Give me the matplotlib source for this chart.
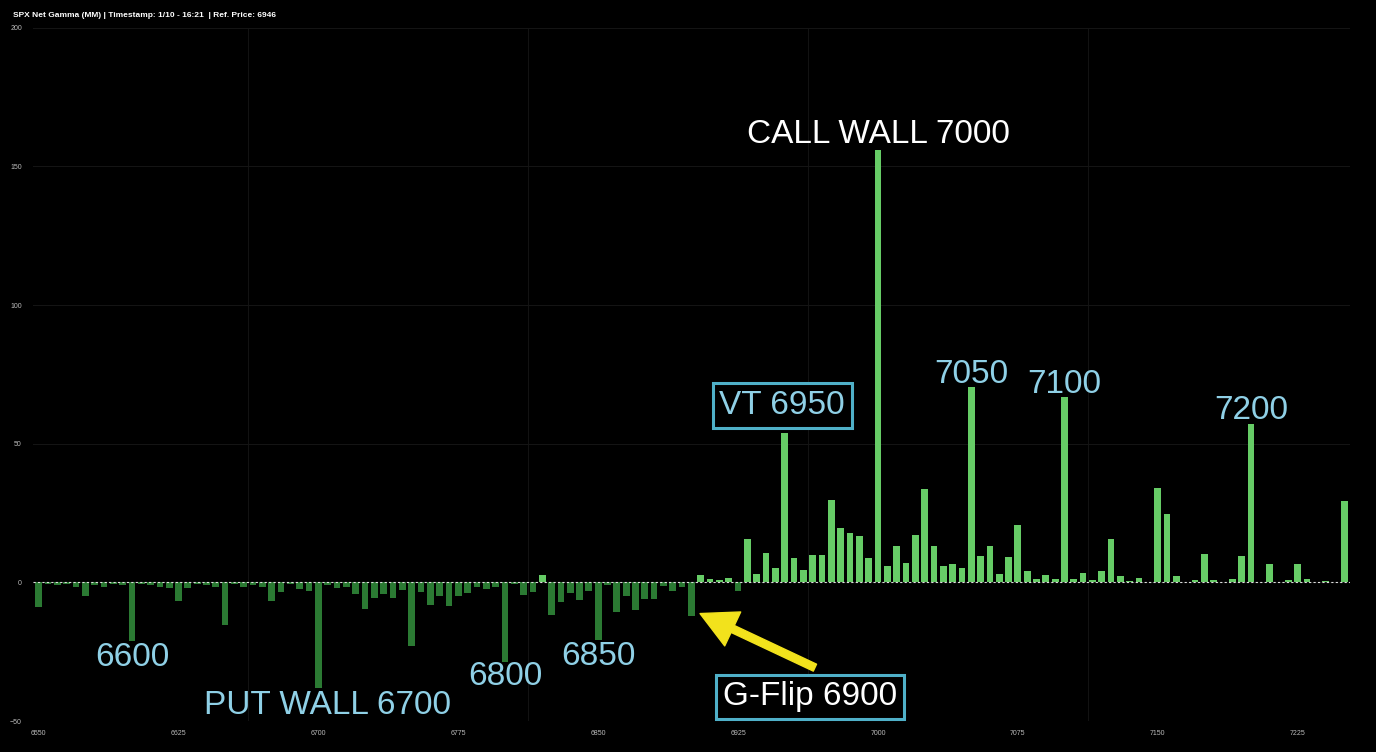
import numpy as np
import matplotlib
matplotlib.use("Agg")
import matplotlib.pyplot as plt

# strikes every 5 points, 6550 .. 7250
strikes = np.arange(6550, 7251, 5)
gamma = [
    -9, -0.5, -1, -0.5, -1.5, -5, -1, -1.5, -0.5, -1,
    -21, -0.5, -1, -1.5, -2, -6.5, -2, -0.5, -1, -1.5,
    -15.5, -0.5, -1.5, -1, -1.5, -6.5, -3.5, -0.5, -2.5, -3,
    -38, -1, -2, -1.5, -4.3, -9.6, -5.5, -4.3, -5.5, -2.7,
    -23, -3.6, -8, -5, -8.5, -4.7, -3.7, -1.7, -2.4, -1.5,
    -28.5, -0.5, -4.5, -3.3, 2.8, -11.7, -6.9, -3.7, -6.3, -2.9,
    -20.6, -0.8, -10.8, -4.9, -9.9, -5.9, -5.9, -1.3, -3.1, -1.7,
    -12, 2.8, 1.3, 0.8, 1.8, -2.9, 15.7, 2.9, 10.6, 5.3,
    54, 8.7, 4.6, 10, 10, 29.8, 19.8, 17.8, 16.6, 9,
    156, 5.8, 13.1, 6.9, 17.2, 33.7, 13.3, 5.9, 6.5, 5.1,
    70.4, 9.4, 13.1, 3, 9.2, 20.8, 4, 1.1, 2.7, 1.1,
    66.8, 1.2, 3.5, 0.8, 4.3, 15.8, 2.3, 0.5, 1.7, 0.3,
    34, 24.8, 2.2, 0.3, 0.8, 10.1, 0.8, 0.3, 1.2, 9.4,
    57, 0.3, 6.5, 0.3, 0.8, 6.5, 1.2, 0.3, 0.6, 0.2,
    29.4,
]
xticks = [6550, 6625, 6700, 6775, 6850, 6925, 7000, 7075, 7150, 7225]
yticks = [-50, 0, 50, 100, 150, 200]

title = "SPX Net Gamma (MM) | Timestamp: 1/10 - 16:21  | Ref. Price: 6946"

POS = "#66cc66"
NEG = "#2b7a33"
BLUE = "#8fd0e6"
EDGE = "#4fb0c8"
FONT = "Liberation Sans"

gamma = np.array(gamma)
colors = np.where(gamma >= 0, POS, NEG)

fig = plt.figure(figsize=(13.76, 7.52), dpi=100, facecolor="black")
ax = fig.add_axes([0.024, 0.041, 0.957, 0.922], facecolor="black")

ax.bar(strikes, gamma, width=3.6, color=colors, zorder=2)
ax.axhline(0, color="#dddddd", lw=0.8, ls=(0, (2, 2)), zorder=3)

ax.set_xlim(6547, 7253)
ax.set_ylim(-50, 200)
ax.set_xticks(xticks)
ax.set_yticks(yticks)
ax.set_xticks(np.arange(6662.5, 7253, 150), minor=True)
ax.grid(axis="y", color="#151515", lw=0.7, zorder=0)
ax.grid(axis="x", which="minor", color="#131313", lw=0.7, zorder=0)
ax.tick_params(axis="both", which="both", length=0, colors="#bbbbbb", labelsize=5)
ax.tick_params(axis="x", pad=6)
ax.tick_params(axis="y", pad=8)
for lab in ax.get_xticklabels() + ax.get_yticklabels():
    lab.set_family(FONT)
for s in ax.spines.values():
    s.set_visible(False)

fig.text(0.0095, 0.979, title, color="white", fontsize=6, fontweight="bold",
         family=FONT, ha="left", va="center")

big = dict(fontsize=24, family=FONT, ha="center", va="center", zorder=5)
ax.text(7000, 161.5, "CALL WALL 7000", color="white", **big)
ax.text(7050, 75, "7050", color=BLUE, **big)
ax.text(7100, 71.5, "7100", color=BLUE, **big)
ax.text(7200, 62, "7200", color=BLUE, **big)
ax.text(6600, -27, "6600", color=BLUE, **big)
ax.text(6704.8, -44.5, "PUT WALL 6700", color=BLUE, **big)
ax.text(6800, -34, "6800", color=BLUE, **big)
ax.text(6850, -26.8, "6850", color=BLUE, **big)

box = dict(boxstyle="square,pad=0.2", facecolor="black", edgecolor=EDGE, lw=2.2)
ax.text(6948.6, 63.8, "VT 6950", color=BLUE, bbox=box, **big)
ax.text(6963.6, -41.2, "G-Flip 6900", color="white", bbox=box, **big)

ax.annotate("", xy=(6904.6, -11.2), xytext=(6966.2, -30.7),
            arrowprops=dict(facecolor="#f2e21c", edgecolor="#f2e21c",
                            width=5.5, headwidth=27, headlength=26, shrink=0),
            zorder=6)

fig.savefig("out.png", dpi=100, facecolor="black")
